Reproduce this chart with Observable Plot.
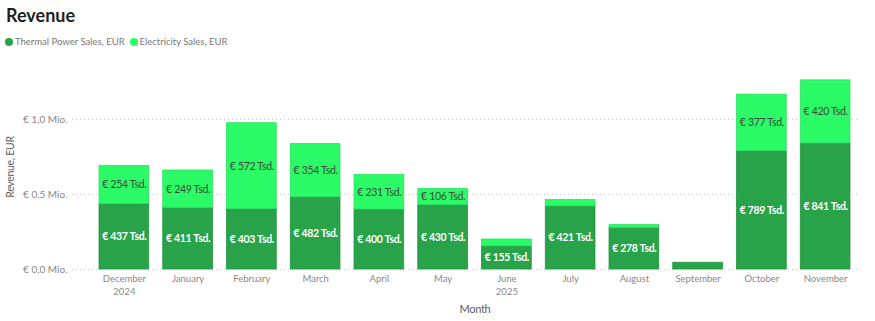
<!DOCTYPE html>
<html>
<head>
<meta charset="utf-8">
<script src="https://cdn.jsdelivr.net/npm/d3@7"></script>
<script src="https://cdn.jsdelivr.net/npm/@observablehq/plot@0.6"></script>
<style>
  html, body { margin: 0; padding: 0; background: #fff; }
  body { width: 875px; height: 321px; overflow: hidden; font-family: Lato, "Open Sans", sans-serif; }
  #header { position: relative; height: 55px; }
  #title { position: absolute; left: 6px; top: 4px; font-size: 18px; font-weight: 700; color: #201f1e; }
  #legend { position: absolute; left: 5px; top: 36px; font-size: 9.5px; color: #7a7876; display: flex; gap: 5px; }
  .item { display: flex; align-items: center; gap: 2px; }
  .dot { width: 8px; height: 8px; border-radius: 50%; display: inline-block; }
  #chart g[aria-label="text"] text { letter-spacing: -0.3px; }
</style>
</head>
<body>
<div id="header">
  <div id="title">Revenue</div>
  <div id="legend"></div>
</div>
<div id="chart"></div>
<script>
const months = ["December","January","February","March","April","May","June","July","August","September","October","November"];
const monthTickLabels = ["December\n2024","January","February","March","April","May","June\n2025","July","August","September","October","November"];
const seriesNames = ["Thermal Power Sales, EUR", "Electricity Sales, EUR"];
const seriesColors = ["#28a34a", "#2bfb66"];
// values in thousands of EUR (Tsd.)
const thermal = [437, 411, 403, 482, 400, 430, 155, 421, 278, 45, 789, 841];
const electricity = [254, 249, 572, 354, 231, 106, 45, 42, 18, 0, 377, 420];
const yTicks = [0, 500, 1000];

const rows = [];
months.forEach((m, i) => {
  rows.push({month: m, series: seriesNames[0], value: thermal[i]});
  rows.push({month: m, series: seriesNames[1], value: electricity[i]});
});

const legend = document.getElementById("legend");
seriesNames.forEach((s, i) => {
  const it = document.createElement("span");
  it.className = "item";
  it.innerHTML = `<span class="dot" style="background:${seriesColors[i]}"></span><span>${s}</span>`;
  legend.appendChild(it);
});

const fmt = v => `€ ${v} Tsd.`;
const tickLabel = new Map(months.map((m, i) => [m, monthTickLabels[i]]));
const font = "Lato, 'Open Sans', sans-serif";

const chart = Plot.plot({
  width: 875,
  height: 266,
  marginLeft: 92,
  marginRight: 18,
  marginTop: 19,
  marginBottom: 52,
  style: {fontFamily: font, background: "#fff"},
  x: {domain: months, padding: 0.22, paddingOuter: 0.11, round: false, label: null},
  y: {domain: [0, 1300], label: null},
  color: {domain: seriesNames, range: seriesColors},
  marks: [
    Plot.gridY(yTicks, {stroke: "#c8c6c4", strokeOpacity: 1, strokeDasharray: "1,3", insetLeft: -20, insetRight: -3}),
    Plot.barY(rows, Plot.stackY({
      x: "month", y: "value", z: "series", fill: "series",
      order: seriesNames,
      stroke: d => d.series === seriesNames[0] ? "#24963f" : "#2fe066",
      strokeWidth: 0.8
    })),
    Plot.text(rows, Plot.stackY({
      x: "month", y: "value", z: "series", order: seriesNames,
      text: d => d.series === seriesNames[0] && d.value >= 100 ? fmt(d.value) : "",
      fill: "white", fontWeight: "bold", fontSize: 10.5
    })),
    Plot.text(rows, Plot.stackY({
      x: "month", y: "value", z: "series", order: seriesNames,
      text: d => d.series === seriesNames[1] && d.value >= 100 ? fmt(d.value) : "",
      fill: "#3a4a3c", fontSize: 10.5
    })),
    Plot.axisY({
      ticks: yTicks, tickSize: 0, tickPadding: 25, label: null,
      tickFormat: d => "€ " + (d / 1000).toFixed(1).replace(".", ",") + " Mio.",
      fill: "#8a8886", fontSize: 10
    }),
    Plot.axisX({
      tickSize: 0, tickPadding: 4, label: null, lineHeight: 1.3,
      tickFormat: d => tickLabel.get(d), fill: "#8a8886", fontSize: 9.5
    }),
    Plot.text(["Month"], {frameAnchor: "bottom", text: d => d, dy: 43, fontSize: 11, fill: "#605e5c"}),
    Plot.text(["Revenue, EUR"], {frameAnchor: "left", textAnchor: "middle", text: d => d, rotate: -90, dx: -82, dy: -5, fontSize: 10.5, fill: "#605e5c"})
  ]
});
document.getElementById("chart").appendChild(chart);
</script>
</body>
</html>
